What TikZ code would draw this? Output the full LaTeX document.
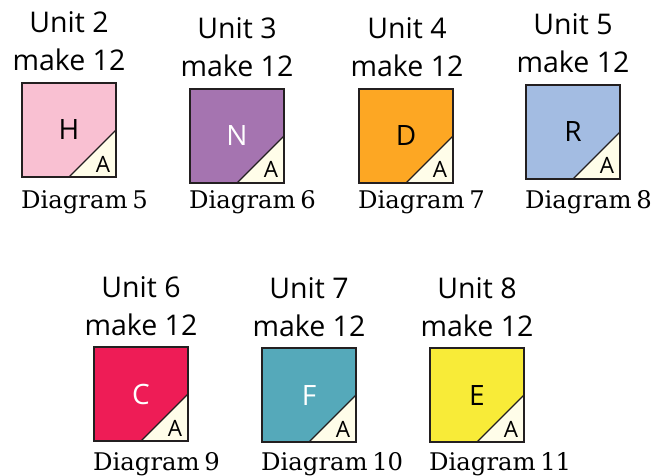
\documentclass[tikz,border=0pt]{standalone}
\usepackage{fontspec}
\setmainfont{Open Sans}
\newfontfamily\capfont[WordSpace=0.6]{DejaVu Serif}
\definecolor{cream}{HTML}{FFFDE9}
\definecolor{cH}{HTML}{F9C0D2}
\definecolor{cN}{HTML}{A574B0}
\definecolor{cD}{HTML}{FDA723}
\definecolor{cR}{HTML}{A3BCE2}
\definecolor{cC}{HTML}{EE1C56}
\definecolor{cF}{HTML}{55A9BA}
\definecolor{cE}{HTML}{F8EB38}
\definecolor{ink}{HTML}{231F20}
\tikzset{
  headtext/.style={font=\fontsize{28.5}{30}\selectfont, text=black, inner sep=0pt, anchor=base},
  lettertext/.style={font=\fontsize{28}{30}\selectfont, inner sep=0pt, anchor=base},
  atext/.style={font=\fontsize{22.5}{24}\selectfont, text=black, inner sep=0pt, anchor=base},
  captext/.style={font=\capfont\fontsize{24.3}{28}\selectfont, text=black, inner sep=0pt, anchor=base west},
  sq/.style={draw=ink, line width=1.2pt, line join=miter}
}
% #1 id, #2 x, #3 y top, #4 colour, #5 letter colour, #6 letter, #7 unit, #8 diagram, #9 head centre x
\newcommand{\unitcard}[9]{
  \coordinate (tl#1) at (#2,#3);
  \coordinate (tr#1) at (#2+94,#3);
  \coordinate (br#1) at (#2+94,#3+94);
  \coordinate (bl#1) at (#2,#3+94);
  \coordinate (ma#1) at (#2+47,#3+94);
  \coordinate (mb#1) at (#2+94,#3+47);
  \fill[cream] (ma#1) -- (mb#1) -- (br#1) -- cycle;
  \fill[#4] (tl#1) -- (tr#1) -- (mb#1) -- (ma#1) -- (bl#1) -- cycle;
  \draw[sq] (ma#1) -- (mb#1);
  \draw[sq] (tl#1) rectangle (br#1);
  \node[lettertext, text=#5] (let#1) at (#2+47,#3+57) {#6};
  \node[atext] (a#1) at (#2+81,#3+89) {A};
  \node[headtext] (u#1) at (#9,#3-50) {Unit #7};
  \node[headtext] (m#1) at (#9,#3-12) {make 12};
  \node[captext] (c#1) at (#2-1,\capbase) {Diagram #8};
}
\begin{document}
\begin{tikzpicture}[x=1pt,y=-1pt]
\useasboundingbox (0,0) rectangle (667,476);
\def\capbase{208}
\unitcard{h}{22}{83}{cH}{black}{H}{2}{5}{69}
\unitcard{n}{190}{89}{cN}{white}{N}{3}{6}{237}
\unitcard{d}{359}{89}{cD}{black}{D}{4}{7}{407}
\unitcard{r}{526}{85}{cR}{black}{R}{5}{8}{573}
\def\capbase{470}
\unitcard{c}{94}{347}{cC}{white}{C}{6}{9}{141}
\unitcard{f}{262}{348}{cF}{white}{F}{7}{10}{309}
\unitcard{e}{430}{348}{cE}{black}{E}{8}{11}{477}
\end{tikzpicture}
\end{document}
